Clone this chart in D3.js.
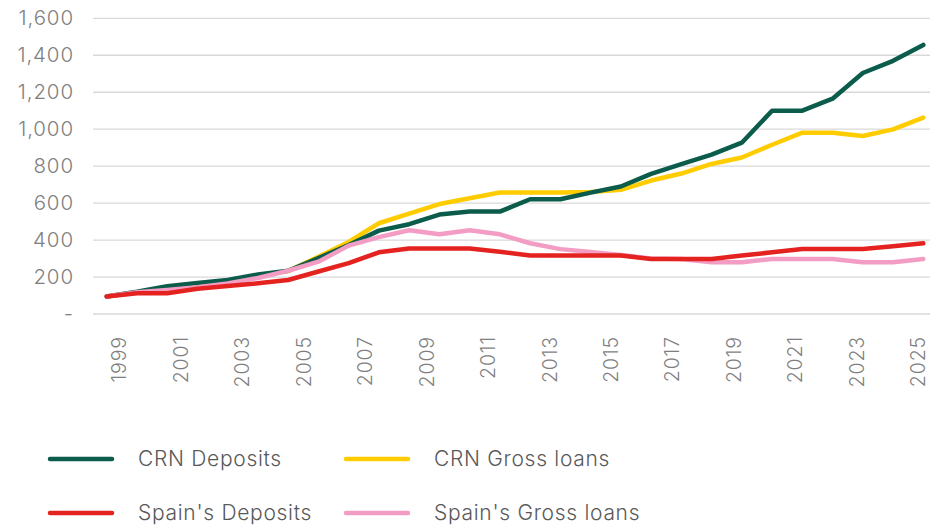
<!DOCTYPE html>
<html>
<head>
<meta charset="utf-8">
<script src="https://cdn.jsdelivr.net/npm/d3@7/dist/d3.min.js"></script>
<style>
  html, body { margin: 0; padding: 0; background: #ffffff; }
  svg { display: block; }
  text { font-family: "Inter", "DejaVu Sans", sans-serif; }
</style>
</head>
<body>
<svg id="chart" width="930" height="526"></svg>
<script>
// Data periods (28 observations) and axis labels
const periods = ["1998","1999","2000","2001","2002","2003","2004","2005","2006","2007","2008","2009","2010","2011","2012","2013","2014","2015","2016","2017","2018","2019","2020","2021","2022","2023","2024","2025"];
const axisYears = ["1999","2000","2001","2002","2003","2004","2005","2006","2007","2008","2009","2010","2011","2012","2013","2014","2015","2016","2017","2018","2019","2020","2021","2022","2023","2024","2025"];
const tickYears = ["1999","2001","2003","2005","2007","2009","2011","2013","2015","2017","2019","2021","2023","2025"];
const yTicks = [0, 200, 400, 600, 800, 1000, 1200, 1400, 1600];

const crnDeposits   = [95,120,150,168,184,214,234,303,373,451,486,538,554,554,621,621,657,690,758,811,862,927,1100,1100,1165,1304,1370,1456];
const crnLoans      = [95,118,145,162,180,205,232,310,390,491,543,595,626,657,657,657,660,672,722,760,812,847,916,981,981,963,999,1063];
const spainDeposits = [95,112,112,137,151,166,184,230,275,334,354,354,354,337,316,316,316,316,298,298,298,316,334,352,352,352,367,383];
const spainLoans    = [95,118,130,145,165,195,234,283,370,416,453,431,453,431,383,351,335,319,300,298,280,280,298,298,298,280,280,298];

const seriesNames  = ["CRN Deposits", "CRN Gross loans", "Spain's Deposits", "Spain's Gross loans"];
const seriesColors = ["#0b5c4b", "#ffcc00", "#e42320", "#f39cc4"];
const seriesValues = [crnDeposits, crnLoans, spainDeposits, spainLoans];

const svg = d3.select("#chart");
const gridLeft = 93, gridRight = 930;

const x = d3.scalePoint().domain(periods).range([106.7, 923.3]);
const xAxisScale = d3.scalePoint().domain(axisYears).range([119, 918]);
const y = d3.scaleLinear().domain([0, 1600]).range([314, 18.3]);

// gridlines
svg.append("g").selectAll("line").data(yTicks).join("line")
  .attr("x1", gridLeft).attr("x2", gridRight)
  .attr("y1", d => y(d)).attr("y2", d => y(d))
  .attr("stroke", "#d9d9d9").attr("stroke-width", 1.3);

// y axis labels
const yAxis = d3.axisLeft(y).tickValues(yTicks).tickSize(0).tickPadding(0)
  .tickFormat(d => d === 0 ? "-" : d3.format(",")(d));
const gy = svg.append("g").attr("transform", "translate(74,0)").call(yAxis);
gy.select(".domain").remove();
gy.selectAll("text").attr("fill", "#7f7f7f").style("font-size", "20.5px").style("font-weight", 300)
  .style("letter-spacing", "0.9px")
  .style("font-family", "Inter, 'DejaVu Sans', sans-serif");

// x axis labels (rotated)
const xAxis = d3.axisBottom(xAxisScale).tickValues(tickYears).tickSize(0).tickPadding(0);
const gx = svg.append("g").attr("transform", "translate(0,336)").call(xAxis);
gx.select(".domain").remove();
gx.selectAll("text")
  .attr("fill", "#7f7f7f").style("font-size", "19.5px").style("font-weight", 300)
  .style("letter-spacing", "0.9px")
  .style("font-family", "Inter, 'DejaVu Sans', sans-serif")
  .attr("text-anchor", "end")
  .attr("x", 0).attr("y", 0).attr("dy", "0.35em")
  .attr("transform", "rotate(-90)");

// lines, drawn yellow, green, pink, red
const drawOrder = [1, 0, 3, 2];
const line = d3.line().x((d, i) => x(periods[i])).y(d => y(d));
svg.append("g").selectAll("path").data(drawOrder).join("path")
  .attr("d", k => line(seriesValues[k]))
  .attr("fill", "none")
  .attr("stroke", k => seriesColors[k])
  .attr("stroke-width", 4.5)
  .attr("stroke-linejoin", "round")
  .attr("stroke-linecap", "round");

// legend
const legendPos = [[50, 459], [346, 459], [50, 513], [346, 513]];
const lg = svg.append("g").selectAll("g").data(seriesNames).join("g")
  .attr("transform", (d, i) => `translate(${legendPos[i][0]},${legendPos[i][1]})`);
lg.append("line").attr("x1", 0).attr("x2", 62).attr("y1", 0).attr("y2", 0)
  .attr("stroke", (d, i) => seriesColors[i]).attr("stroke-width", 4.5).attr("stroke-linecap", "round");
lg.append("text").attr("x", 88).attr("y", 0).attr("dy", "0.35em")
  .attr("fill", "#595959").style("font-size", "21px").style("font-weight", 300)
  .style("letter-spacing", "0.7px")
  .text(d => d);
</script>
</body>
</html>
